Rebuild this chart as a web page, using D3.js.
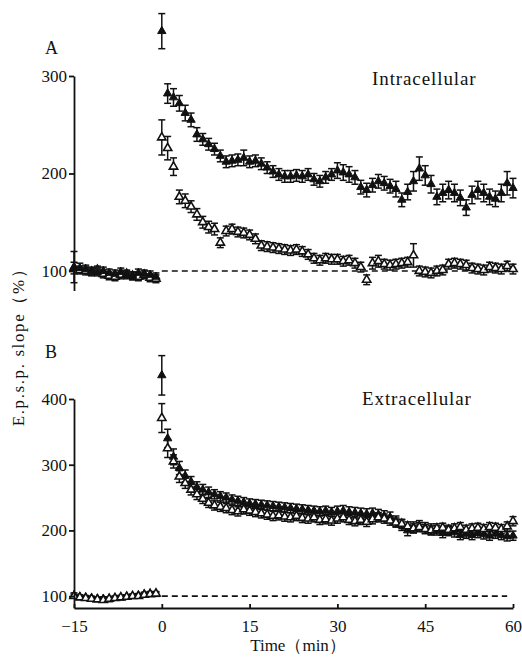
<!DOCTYPE html>
<html>
<head>
<meta charset="utf-8">
<script src="https://cdn.jsdelivr.net/npm/d3@7"></script>
<style>
  body { margin: 0; background: #fff; }
  svg text { font-family: "Liberation Serif", "DejaVu Serif", serif; fill: #111; }
</style>
</head>
<body>
<script>
var width = 522, height = 657;

// time (min) of the sampling points
var baseTimes = d3.range(-15, 0);      // -15 .. -1
var postTimes = d3.range(0, 61);       // 0 .. 60

// Panel A - intracellular (%)
var aFilledBase = [104,103,102,100,99,100,98,97,99,96,95,98,97,96,94];
var aOpenBase   = [103,101,100,99,101,97,95,94,96,97,95,94,96,93,92];
var aFilledBaseErr = [16,5,4,4,4,4,4,4,4,4,4,4,4,4,4];
var aOpenBaseErr   = [6,4,4,4,4,4,4,4,4,4,4,4,4,4,4];
var aFilled = [346,282,278,272,262,255,240,235,230,225,218,212,213,214,216,212,213,210,206,202,199,
               197,197,198,197,199,194,192,196,199,203,201,199,196,186,183,188,192,190,187,184,
               173,181,192,205,198,189,176,180,183,180,175,165,178,183,180,176,174,180,190,185];
var aFilledErr = [18,10,9,8,8,7,7,6,6,6,6,6,6,6,8,6,6,6,6,6,6,6,6,6,6,6,6,6,6,6,8,
                  8,8,7,7,7,7,7,7,7,8,7,8,10,12,10,9,8,9,9,9,8,8,9,9,9,8,8,9,12,10];
var aOpen = [237,226,207,176,172,166,158,150,145,143,129,141,143,140,139,137,133,126,125,124,123,
             122,121,122,120,117,113,111,113,112,112,110,111,108,104,91,108,110,107,106,107,
             108,109,116,100,99,98,100,101,107,108,107,106,103,102,101,104,103,102,105,102];
var aOpenErr = [18,12,9,7,7,6,6,6,6,6,5,5,5,5,5,5,5,5,5,5,5,5,5,5,5,5,5,5,5,5,5,
                5,5,5,5,5,6,6,5,5,5,5,5,12,5,5,5,5,5,5,5,5,5,5,5,5,5,5,5,5,5];

// Panel B - extracellular (%)
var bFilledBase = [101,99,98,97,96,96,95,97,98,99,100,101,103,104,103];
var bOpenBase   = [100,98,97,96,95,94,96,97,98,99,100,100,102,103,104];
var bFilledBaseErr = [4,3,3,3,3,3,3,3,3,3,3,3,3,3,3];
var bOpenBaseErr   = [3,3,3,3,3,3,3,3,3,3,3,3,3,3,3];
var bFilled = [436,340,312,295,283,274,266,262,258,255,252,250,247,245,243,241,240,239,238,237,236,
               235,234,233,232,231,230,229,230,228,229,230,228,227,226,225,226,224,222,220,214,
               208,200,205,207,204,202,200,196,199,197,193,195,193,196,194,192,195,193,191,192];
var bFilledErr = [30,14,12,10,9,8,8,8,8,7,7,7,7,7,7,7,7,7,7,7,7,7,7,7,7,7,7,7,7,7,8,
                  8,8,8,8,8,8,8,8,8,8,8,8,8,8,8,8,7,7,7,7,7,7,7,7,7,7,7,7,7,7];
var bOpen = [371,325,305,282,272,262,255,248,242,238,236,234,231,229,232,230,228,226,224,222,223,
             221,220,222,219,218,220,216,217,215,218,220,216,214,216,213,217,220,218,215,212,
             210,206,203,205,202,200,203,204,201,203,205,201,203,204,202,205,204,202,206,214];
var bOpenErr = [22,14,10,9,8,8,8,7,7,7,7,7,7,7,7,7,7,7,7,7,7,7,7,7,7,7,7,7,7,7,7,
                7,7,7,7,7,7,7,7,7,7,7,7,7,7,7,7,7,7,7,7,7,7,7,7,7,7,7,7,7,7];

var xTicks = [-15, 0, 15, 30, 45, 60];
var aTicks = [100, 200, 300];
var bTicks = [100, 200, 300, 400];

var svg = d3.select('body').append('svg')
    .attr('width', width)
    .attr('height', height);

var x = d3.scaleLinear().domain([-15, 60]).range([74, 513]);
var yA = d3.scaleLinear().domain([80, 300]).range([290.5, 76]);
var yB = d3.scaleLinear().domain([82, 400]).range([608, 399]);

function pts(times, vals, errs) {
    return times.map(function(t, i){ return {t: t, v: vals[i], e: errs[i]}; });
}

function drawPanel(y, series) {
    var g = svg.append('g');
    // dashed 100% reference
    g.append('line')
        .attr('x1', x(0)).attr('x2', x(59))
        .attr('y1', y(100)).attr('y2', y(100))
        .attr('stroke', '#111').attr('stroke-width', 1.6)
        .attr('stroke-dasharray', '6,4');

    series.forEach(function(s){
        var eb = g.append('g').selectAll('g').data(s.data).enter().append('g')
            .attr('stroke', '#111').attr('stroke-width', 1.5);
        eb.append('line')
            .attr('x1', function(d){ return x(d.t); })
            .attr('x2', function(d){ return x(d.t); })
            .attr('y1', function(d){ return y(d.v - d.e); })
            .attr('y2', function(d){ return y(d.v + d.e); });
        eb.append('line')
            .attr('x1', function(d){ return x(d.t) - 3.5; })
            .attr('x2', function(d){ return x(d.t) + 3.5; })
            .attr('y1', function(d){ return y(d.v + d.e); })
            .attr('y2', function(d){ return y(d.v + d.e); });
        eb.append('line')
            .attr('x1', function(d){ return x(d.t) - 3.5; })
            .attr('x2', function(d){ return x(d.t) + 3.5; })
            .attr('y1', function(d){ return y(d.v - d.e); })
            .attr('y2', function(d){ return y(d.v - d.e); });
    });

    series.forEach(function(s){
        g.append('g').selectAll('path').data(s.data).enter().append('path')
            .attr('d', d3.symbol(d3.symbolTriangle, 30))
            .attr('transform', function(d){ return 'translate(' + x(d.t) + ',' + y(d.v) + ')'; })
            .attr('fill', s.filled ? '#111' : '#fff')
            .attr('stroke', '#111')
            .attr('stroke-width', s.filled ? 1 : 1.6);
    });
}

drawPanel(yA, [
    {filled: false, data: pts(baseTimes, aOpenBase, aOpenBaseErr).concat(pts(postTimes, aOpen, aOpenErr))},
    {filled: true,  data: pts(baseTimes, aFilledBase, aFilledBaseErr).concat(pts(postTimes, aFilled, aFilledErr))}
]);
drawPanel(yB, [
    {filled: true,  data: pts(baseTimes, bFilledBase, bFilledBaseErr).concat(pts(postTimes, bFilled, bFilledErr))},
    {filled: false, data: pts(baseTimes, bOpenBase, bOpenBaseErr).concat(pts(postTimes, bOpen, bOpenErr))}
]);

// axes
function styleAxis(sel) {
    sel.selectAll('path, line').attr('stroke', '#111').attr('stroke-width', 1.8);
    sel.selectAll('text').attr('font-size', '17px')
        .style('font-family', '"Liberation Serif", serif').attr('fill', '#111');
}

svg.append('g')
    .attr('transform', 'translate(' + x(-15) + ',0)')
    .call(d3.axisLeft(yA).tickValues(aTicks).tickSize(5).tickSizeOuter(0).tickPadding(2))
    .call(styleAxis);

svg.append('g')
    .attr('transform', 'translate(' + x(-15) + ',0)')
    .call(d3.axisLeft(yB).tickValues(bTicks).tickSize(5).tickSizeOuter(0).tickPadding(2))
    .call(styleAxis);

svg.append('g')
    .attr('transform', 'translate(0,' + yB(82) + ')')
    .call(d3.axisBottom(x).tickValues(xTicks).tickSize(-4).tickSizeOuter(0).tickPadding(12)
        .tickFormat(function(d){ return d < 0 ? '\u2212' + Math.abs(d) : d; }))
    .call(styleAxis);

// labels
svg.append('text').attr('x', 298).attr('y', 651).attr('font-size', '17px')
    .attr('text-anchor', 'middle').text('Time\uFF08min\uFF09');

svg.append('text')
    .attr('transform', 'translate(24,343) rotate(-90)')
    .attr('font-size', '17px').attr('letter-spacing', '1.6px').attr('text-anchor', 'middle')
    .text('E.p.s.p. slope\uFF08%\uFF09');

svg.append('text').attr('x', 45).attr('y', 54).attr('font-size', '18px').text('A');
svg.append('text').attr('x', 45).attr('y', 358).attr('font-size', '18px').text('B');
svg.append('text').attr('x', 372).attr('y', 85).attr('font-size', '19px')
    .attr('letter-spacing', '0.9px').text('Intracellular');
svg.append('text').attr('x', 362).attr('y', 405).attr('font-size', '19px')
    .attr('letter-spacing', '0.9px').text('Extracellular');
</script>
</body>
</html>
